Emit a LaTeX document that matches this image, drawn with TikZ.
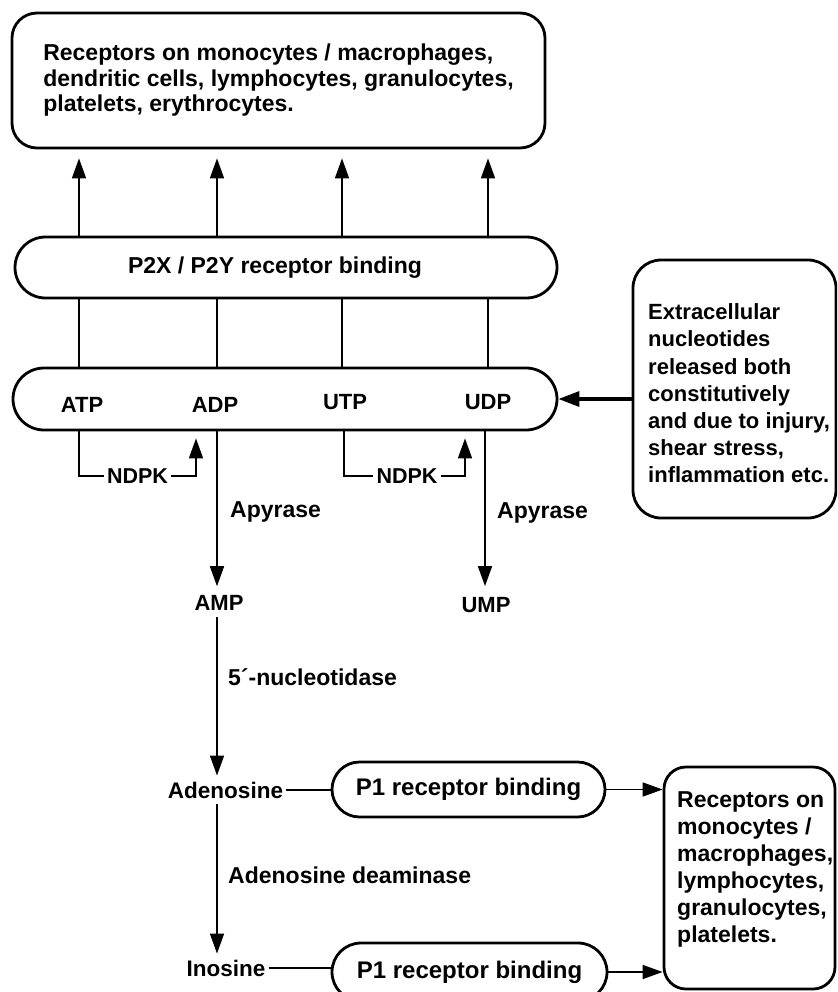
\documentclass[tikz,border=0pt]{standalone}
\usepackage{fontspec}
\setmainfont{Liberation Sans}
\usetikzlibrary{arrows.meta,calc,shapes.misc}
\begin{document}
\begin{tikzpicture}[x=1pt,y=-1pt,
  bx/.style={draw,line width=2.8pt,rounded corners=#1,inner sep=0pt},
  stad/.style={draw,line width=2.8pt,rounded rectangle,inner sep=0pt},
  lbl/.style={inner xsep=3pt,inner ysep=6pt,font=\fontsize{22}{27}\selectfont\bfseries},
  biglbl/.style={inner xsep=3pt,inner ysep=6pt,font=\fontsize{23}{27}\selectfont\bfseries},
  conn/.style={line width=1.6pt},
  arr/.style={line width=1.6pt,-{Triangle[length=20pt,width=14pt]}},
  thickarr/.style={line width=3.2pt,-{Triangle[length=21pt,width=15pt]}}
]
\useasboundingbox (0,0) rectangle (837,992);
\clip (0,0) rectangle (837,992);

% top receptors box
\node[bx=25pt, minimum width=533pt, minimum height=135pt, align=left,
      font=\fontsize{23}{25.5}\selectfont\bfseries] (top) at (278.5,80.5)
  {Receptors on monocytes / macrophages,\\dendritic cells, lymphocytes, granulocytes,\\platelets, erythrocytes.};

% P2X / P2Y box
\node[stad, minimum width=542pt, minimum height=61pt,
      font=\fontsize{23}{27}\selectfont\bfseries] (p2) at (286,267.5)
  {\hspace*{-22pt}P2X / P2Y receptor binding};

% nucleotide box
\node[stad, minimum width=544pt, minimum height=62pt] (nuc) at (285,399) {};
\node[lbl] (atp) at (82,405) {ATP};
\node[lbl] (adp) at (215,405) {ADP};
\node[lbl] (utp) at (345,402) {UTP};
\node[lbl] (udp) at (488,402) {UDP};

% extracellular box
\node[bx=28pt, minimum width=203pt, minimum height=258pt] (ext) at (734.5,389) {};
\node[anchor=west, align=left, inner sep=0pt,
      font=\fontsize{22}{27.2}\selectfont\bfseries] (exttxt) at (648,393.5)
  {Extracellular\\nucleotides\\released both\\constitutively\\and due to injury,\\shear stress,\\inflammation etc.};
\draw[thickarr] (ext.west |- nuc.east) -- (nuc.east);

% vertical positions
\coordinate (cA) at (79,0);
\coordinate (cB) at (217,0);
\coordinate (cC) at (342,0);
\coordinate (cD) at (488,0);
\coordinate (cE) at (485,0);
\coordinate (n1) at (196,0);
\coordinate (n2) at (465,0);
\coordinate (m2) at (344,0);

\foreach \c in {cA,cB,cC,cD} {
  \draw[arr, shorten >=9pt] (p2.north -| \c) -- (top.south -| \c);
  \draw[conn] (nuc.north -| \c) -- (p2.south -| \c);
}

% NDPK
\node[lbl, font=\fontsize{21.5}{27}\selectfont\bfseries] (nd1) at (137.5,476) {NDPK};
\node[lbl, font=\fontsize{21.5}{27}\selectfont\bfseries] (nd2) at (407,476) {NDPK};
\draw[conn] (nuc.south -| cA) |- (nd1.west);
\draw[arr, shorten >=7pt] (nd1.east) -| (nuc.south -| n1);
\draw[conn] (nuc.south -| m2) |- (nd2.west);
\draw[arr, shorten >=7pt] (nd2.east) -| (nuc.south -| n2);

% Apyrase
\node[lbl] (amp) at (219,603) {AMP};
\node[lbl] (ump) at (486,605) {UMP};
\node[biglbl, anchor=west] (apy1) at (227,512) {Apyrase};
\node[biglbl, anchor=west] (apy2) at (494,513) {Apyrase};
\draw[arr, shorten >=3pt] (nuc.south -| cB) -- (amp.north -| cB);
\draw[arr, shorten >=5pt] (nuc.south -| cE) -- (ump.north -| cE);

% adenosine pathway
\node[lbl, font=\fontsize{22.5}{27}\selectfont\bfseries] (aden) at (225.5,790) {Adenosine};
\node[lbl, font=\fontsize{22.5}{27}\selectfont\bfseries] (ino) at (226,968) {Inosine};
\node[biglbl, anchor=west] (nt5) at (225,677) {5´-nucleotidase};
\node[biglbl, anchor=west] (ada) at (225,875) {Adenosine deaminase};
\draw[arr] (amp.south -| cB) -- (aden.north -| cB);
\draw[arr] (aden.south -| cB) -- (ino.north -| cB);

% P1 boxes
\node[stad, minimum width=273pt, minimum height=55pt,
      font=\fontsize{24}{27}\selectfont\bfseries] (p1a) at (468.5,789.5) {P1 receptor binding};
\node[stad, minimum width=275pt, minimum height=58pt,
      font=\fontsize{24}{27}\selectfont\bfseries] (p1b) at (469.5,972) {P1 receptor binding};
\draw[conn] (aden.east) -- (aden.east -| p1a.west);
\draw[conn] (ino.east) -- (ino.east -| p1b.west);

% lower receptors box
\node[bx=22pt, minimum width=171pt, minimum height=222pt] (rec2) at (749.5,878) {};
\node[anchor=west, align=left, inner sep=0pt,
      font=\fontsize{23}{27}\selectfont\bfseries] (rec2txt) at (677,869.5)
  {Receptors on\\monocytes /\\macrophages,\\lymphocytes,\\granulocytes,\\platelets.};
\draw[arr] (p1a.east) -- (p1a.east -| rec2.west);
\draw[arr] (p1b.east) -- (p1b.east -| rec2.west);
\end{tikzpicture}
\end{document}
